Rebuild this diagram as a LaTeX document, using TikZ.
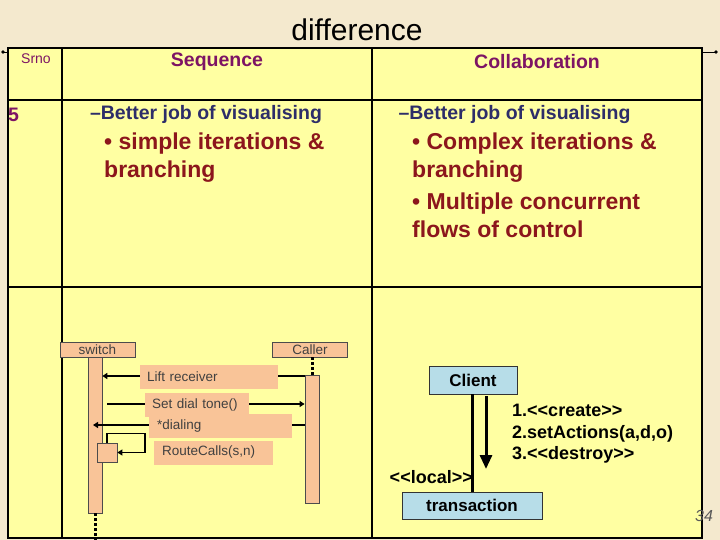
\documentclass[tikz,border=0pt]{standalone}
\usepackage{fontspec}
\setmainfont{Liberation Sans}
\usetikzlibrary{arrows.meta,positioning}

\definecolor{parch}{RGB}{244,233,206}
\definecolor{tabfill}{RGB}{255,255,162}
\definecolor{plum}{RGB}{125,20,100}
\definecolor{navy}{RGB}{45,45,105}
\definecolor{maroon}{RGB}{140,22,28}
\definecolor{peach}{RGB}{249,196,152}
\definecolor{skyb}{RGB}{183,221,232}

\tikzset{
  colhead/.style={font=\fontsize{19.5}{23}\selectfont\bfseries, text=plum, inner sep=0pt},
  better/.style={font=\fontsize{19.5}{23}\selectfont\bfseries, text=navy, inner sep=0pt},
  bullets/.style={font=\fontsize{23}{28}\selectfont\bfseries, text=maroon, align=left, inner sep=0pt, anchor=north west},
  lifehead/.style={draw=black!70, fill=peach, line width=0.7pt, minimum width=75pt, minimum height=15pt,
    inner sep=0pt, font=\fontsize{13.5}{15}\selectfont, text=black!75},
  actbar/.style={draw=black!70, fill=peach, line width=0.7pt, inner sep=0pt},
  msglabel/.style={fill=peach, inner xsep=7pt, inner ysep=0pt, minimum height=24pt, anchor=west,
    align=left, font=\fontsize{13.5}{15}\selectfont, text=black!75},
  msg/.style={line width=1.6pt, -{Triangle[length=5pt,width=6pt]}},
  lifeline/.style={line width=3pt, dash pattern=on 3pt off 2pt},
  objbox/.style={draw=black!80, fill=skyb, line width=0.8pt, inner sep=0pt,
    font=\fontsize{17}{20}\selectfont\bfseries},
  collab/.style={font=\fontsize{18}{21.5}\selectfont\bfseries, inner sep=0pt}
}

\begin{document}
\begin{tikzpicture}[x=1pt, y=-1pt]
% Background and table
\fill[parch] (0,0) rectangle (720,540);
\useasboundingbox (0,0) rectangle (720,540);
\fill[tabfill] (8,48) rectangle (702,538);
\draw[line width=2.2pt] (8,48) rectangle (702,538);
\draw[line width=2.2pt] (62,48) -- (62,538) (372,48) -- (372,538);
\draw[line width=2.2pt] (8,100) -- (702,100) (8,287) -- (702,287);
% Little handles
\draw[line width=0.8pt] (3,52) -- (8,52) (702,52) -- (716,52);
\fill (3,52) circle (1.8) (716,52) circle (1.8);

% Title and header row
\node[font=\fontsize{30}{34}\selectfont] (title) at (357,30) {difference};
\node[font=\fontsize{14}{16}\selectfont, text=plum, inner sep=0pt] (srno) at (36,59) {Srno};
\node[colhead] (seqhead) at (217,62) {Sequence};
\node[colhead] (colhead) at (537,62) {Collaboration};

% Row 5
\node[colhead] (five) at (13.5,115) {5};
\node[better] (seqbetter) at (206,115) {–Better job of visualising};
\node[better] (colbetter) at (514.5,115) {–Better job of visualising};
\node[bullets] (seqbul) at (104,133) {• simple iterations \&\\branching};
\node[bullets] (colbul1) at (412,133) {• Complex iterations \&\\branching};
\node[bullets] (colbul2) at ([yshift=-10pt]colbul1.south west) {• Multiple concurrent\\flows of control};

% Sequence diagram
\node[lifehead] (switch) at (97.5,349.5) {switch};
\node[lifehead] (caller) at (310,349.5) {Caller};
\node[actbar, minimum width=13.3pt, minimum height=156pt] (swbar) at (95.3,435) {};
\node[actbar, minimum width=14.7pt, minimum height=127.3pt] (calbar) at (312.3,439.3) {};
\coordinate (swend) at (95.3,540);
\draw[lifeline] (swbar.south) -- (swend);
\draw[lifeline] (caller.south -| calbar.north) -- (calbar.north);

\coordinate (liftfrom) at (calbar.west |- 0,376);
\draw[msg] (liftfrom) -- (liftfrom -| swbar.east);
\node[msglabel, text width=124pt] (lift) at (140,377) {Lift receiver};

\coordinate (dialfrom) at (107,404);
\draw[msg] (dialfrom) -- (dialfrom -| calbar.west);
\node[msglabel, text width=90pt] (setdial) at (145,405) {Set dial tone()};

\coordinate (dialing) at (calbar.west |- 0,425);
\draw[msg] (dialing) -- (93,425);
\node[msglabel, inner xsep=8pt, text width=127pt] (dialtext) at (149,426) {*dialing};

\node[actbar, minimum width=20pt, minimum height=19pt] (selfbox) at (107,452.5) {};
\draw[msg] (selfbox.north) |- ++(38,-9) |- (selfbox.east);
\node[msglabel, inner xsep=8pt, text width=103pt] (route) at (154,452.5) {RouteCalls(s,n)};

% Collaboration diagram
\node[objbox, minimum width=88pt, minimum height=28pt] (client) at (473,380) {Client};
\node[objbox, minimum width=140pt, minimum height=27pt] (trans) at (472,505.5) {transaction};
\draw[line width=3pt] ([xshift=-1pt]client.south) -- ([xshift=-1pt]client.south |- trans.north);
\coordinate (arrtop) at (486,396);
\coordinate (arrbot) at (486,469);
\draw[line width=3pt, -{Triangle[length=14pt,width=12pt]}] (arrtop) -- (arrbot);
\node[collab, anchor=west, align=left] (calls) at (512,434) {1.<{}<create>{}>\\2.setActions(a,d,o)\\3.<{}<destroy>{}>};
\node[collab, anchor=east] (local) at (473,477) {<{}<local>{}>};

% Slide number
\node[font=\fontsize{16}{18}\selectfont\itshape, text=black!65, inner sep=0pt] (pagenum) at (704,516) {34};
\end{tikzpicture}
\end{document}
